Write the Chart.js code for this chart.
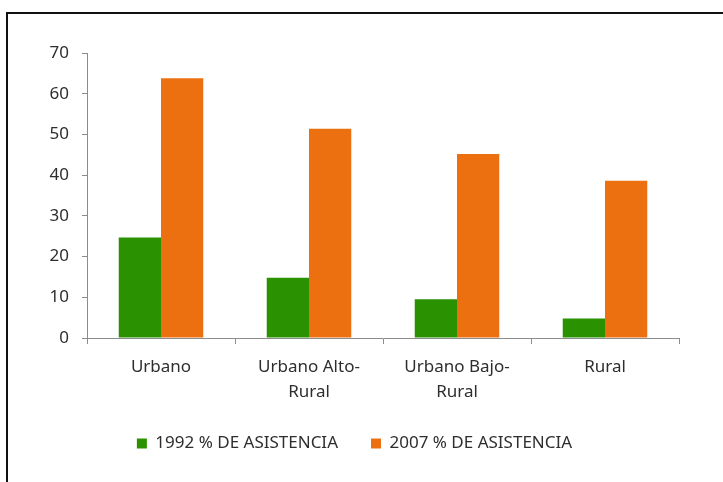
<!DOCTYPE html>
<html>
<head>
<meta charset="utf-8">
<script src="https://cdn.jsdelivr.net/npm/chart.js@4"></script>
<style>
  html, body { margin: 0; padding: 0; background: #fff; }
  body { width: 723px; height: 482px; position: relative; overflow: hidden; }
  /* ── Frame (only top/left edges visible in the crop) ── */
  .frame {
    position: absolute; left: 6px; top: 12px; width: 760px; height: 520px;
    border-top: 2px solid #111; border-left: 2px solid #111;
  }
  .wrap { position: absolute; left: 0; top: 0; width: 723px; height: 482px; }
</style>
</head>
<body>
<div class="frame"></div>
<div class="wrap"><canvas id="chart" width="723" height="482"></canvas></div>
<script>
/* ── Data ───────────────────────────────────────────── */
const categories = [['Urbano'], ['Urbano Alto-', 'Rural'], ['Urbano Bajo-', 'Rural'], ['Rural']];
const seriesNames = ['1992 % DE ASISTENCIA', '2007 % DE ASISTENCIA'];
const values1992 = [24.7, 14.8, 9.5, 4.8];
const values2007 = [63.8, 51.4, 45.2, 38.6];
const yTicks = [0, 10, 20, 30, 40, 50, 60, 70];

const GREEN = '#2a9200';
const ORANGE = '#ec7010';
const AXIS = '#8c8c8c';
const TEXT = '#2e2e2e';
const FONT = '"Noto Sans", "Open Sans", sans-serif';

/* ── Chart ──────────────────────────────────────────── */
new Chart(document.getElementById('chart'), {
  type: 'bar',
  data: {
    labels: categories,
    datasets: [
      { label: seriesNames[0], data: values1992, backgroundColor: GREEN },
      { label: seriesNames[1], data: values2007, backgroundColor: ORANGE }
    ]
  },
  options: {
    responsive: false,
    animation: false,
    devicePixelRatio: 1,
    // left padding + y-axis width puts the plot's left edge at x=87
    layout: { padding: { top: 53, right: 44, bottom: 20, left: 30 } },
    datasets: { bar: { categoryPercentage: 0.571, barPercentage: 1 } },
    scales: {
      x: {
        grid: { display: true, drawOnChartArea: false, offset: true, color: AXIS, tickLength: 6 },
        border: { color: AXIS, width: 1 },
        ticks: { color: TEXT, font: { family: FONT, size: 17, lineHeight: 1.5 }, padding: 10, maxRotation: 0 },
        afterFit: s => { s.height = 64; }
      },
      y: {
        min: 0, max: 70,
        afterBuildTicks: s => { s.ticks = yTicks.map(v => ({ value: v })); },
        grid: { display: true, drawOnChartArea: false, color: AXIS, tickLength: 5 },
        border: { color: AXIS, width: 1 },
        ticks: { color: TEXT, font: { family: FONT, size: 17 }, padding: 13 },
        afterFit: s => { s.width = 57; }
      }
    },
    plugins: {
      tooltip: { enabled: false },
      legend: {
        position: 'bottom',
        labels: {
          color: TEXT, boxWidth: 10, boxHeight: 10, padding: 33,
          font: { family: FONT, size: 17 }
        }
      }
    }
  }
});
</script>
</body>
</html>
